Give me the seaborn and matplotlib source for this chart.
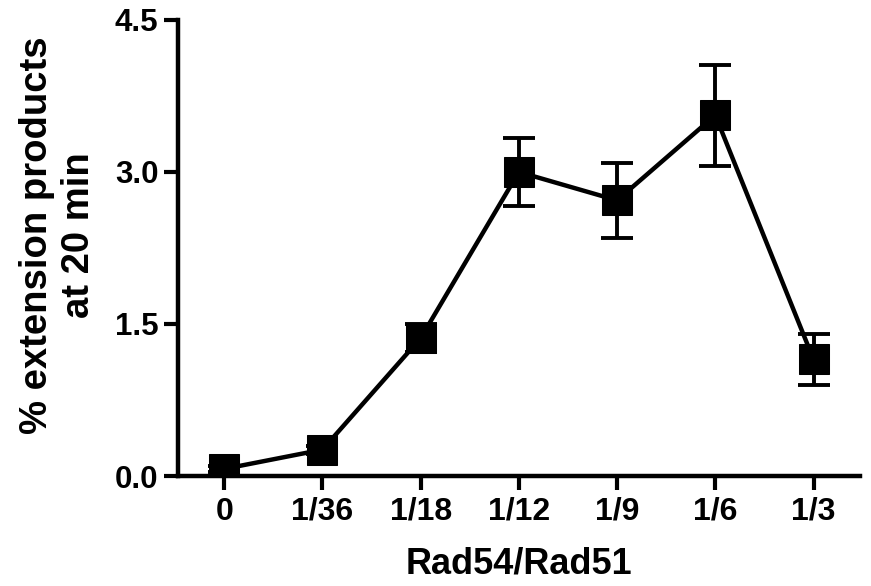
import numpy as np
import pandas as pd
import matplotlib
matplotlib.use("Agg")
import matplotlib.pyplot as plt
import seaborn as sns

# Data
ratios = ["0", "1/36", "1/18", "1/12", "1/9", "1/6", "1/3"]
extension_pct = [0.07, 0.26, 1.36, 3.00, 2.72, 3.56, 1.15]
sem = [0.03, 0.04, 0.14, 0.34, 0.37, 0.50, 0.25]

df = pd.DataFrame({"pos": np.arange(len(ratios)), "ratio": ratios,
                   "value": extension_pct, "err": sem})

sns.set_theme(style="ticks")
plt.rcParams["font.family"] = ["Liberation Sans", "DejaVu Sans"]
plt.rcParams["font.weight"] = "bold"
plt.rcParams["text.color"] = "black"
plt.rcParams["axes.labelcolor"] = "black"

fig = plt.figure(figsize=(8.71, 5.86), dpi=100)
ax = fig.add_axes([0.2044, 0.1877, 0.7826, 0.7782])

ax.errorbar(df["pos"], df["value"], yerr=df["err"], fmt="none",
            ecolor="black", elinewidth=2.8, capsize=11.5, capthick=2.8, zorder=2)
sns.lineplot(data=df, x="pos", y="value", ax=ax, color="black", linewidth=3.2,
             marker="s", markersize=21, markeredgecolor="black",
             markerfacecolor="black", zorder=3)

ax.set_xlim(-0.47, 6.47)
ax.set_ylim(0, 4.5)
ax.set_yticks([0, 1.5, 3.0, 4.5])
ax.set_yticklabels(["0.0", "1.5", "3.0", "4.5"])
ax.set_xticks(df["pos"])
ax.set_xticklabels(ratios)

ax.set_xlabel("Rad54/Rad51", fontsize=26, fontweight="bold", labelpad=14,
              color="black")
ax.set_ylabel("% extension products\nat 20 min", fontsize=27.5,
              fontweight="bold", linespacing=1.2, color="black")
ax.yaxis.label.set_va("center")
ax.yaxis.set_label_coords(-0.176, 0.528)

sns.despine(ax=ax)
for side in ["left", "bottom"]:
    ax.spines[side].set_linewidth(3.2)
    ax.spines[side].set_color("black")
ax.tick_params(axis="both", length=10, width=3, colors="black")
ax.tick_params(axis="x", pad=5, labelsize=23)
ax.tick_params(axis="y", pad=4, labelsize=22.5)
for lab in ax.get_xticklabels() + ax.get_yticklabels():
    lab.set_fontweight("bold")

fig.savefig("out.png", dpi=100)
